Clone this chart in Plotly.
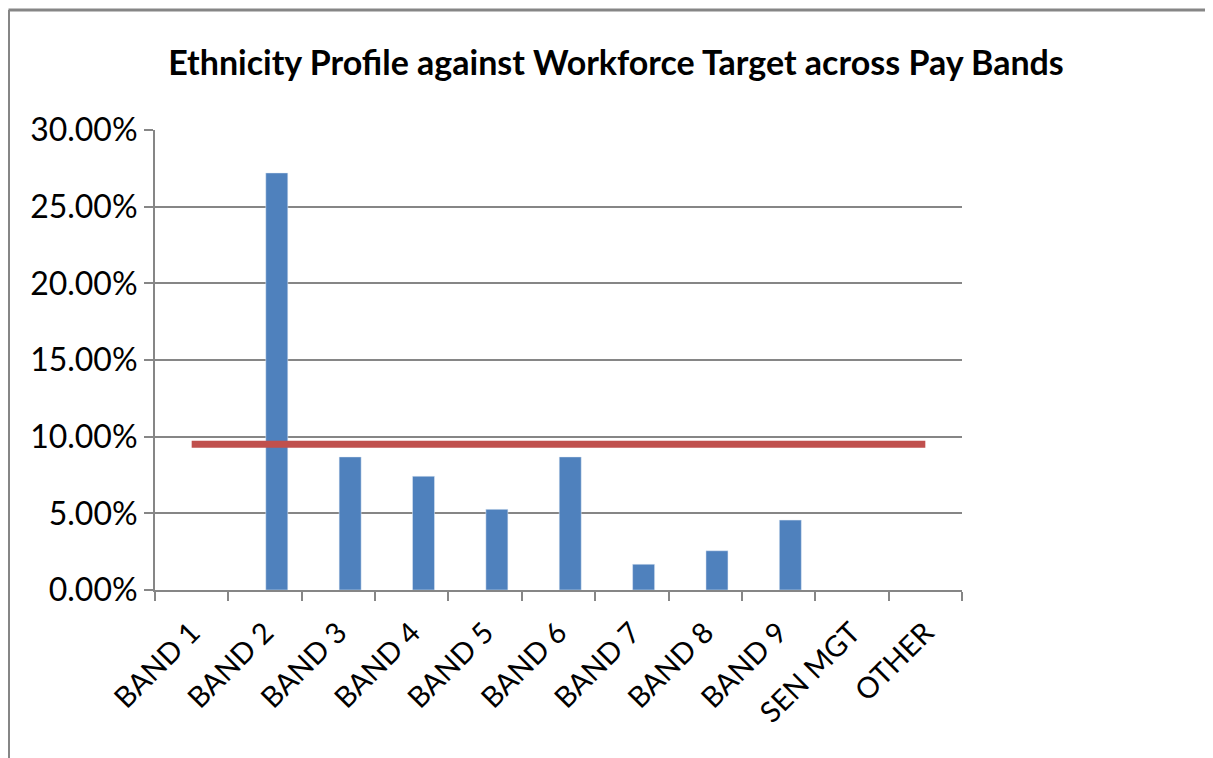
import plotly.graph_objects as go

categories = ["BAND 1", "BAND 2", "BAND 3", "BAND 4", "BAND 5", "BAND 6",
              "BAND 7", "BAND 8", "BAND 9", "SEN MGT", "OTHER"]
profile = [None, 0.272, 0.0868, 0.0742, 0.0526, 0.0868, 0.0168, 0.0256, 0.0456, None, None]
target = [0.095] * 11

W, H = 1213, 758
OFF = 8  # page body margin
L, R, T, B = 155 - OFF, 251 + OFF, 130 - OFF, 168 + OFF
pw, ph = W - L - R, H - T - B

FONT = "Lato"
GRAY = "#868686"

fig = go.Figure()
fig.add_trace(go.Bar(x=categories, y=profile, marker_color="#4F81BD",
                     width=0.3, offset=0.01, name="Profile"))
fig.add_trace(go.Scatter(x=categories, y=target, mode="lines",
                         line=dict(color="#C0504D", width=7), name="Target"))

def px_x(px):
    return (px - L) / pw

def px_y(py):
    return (H - B - py) / ph

shapes = [
    dict(type="line", xref="paper", yref="paper", x0=px_x(0.5), x1=px_x(W + 5),
         y0=px_y(2), y1=px_y(2), line=dict(color=GRAY, width=3)),
    dict(type="line", xref="paper", yref="paper", x0=px_x(0.5), x1=px_x(0.5),
         y0=px_y(2), y1=px_y(H + 5), line=dict(color=GRAY, width=3)),
]

fig.update_layout(
    width=W, height=H,
    margin=dict(l=L, r=R, t=T, b=B),
    paper_bgcolor="white", plot_bgcolor="white",
    showlegend=False,
    shapes=shapes,
    title=dict(text="<b>Ethnicity Profile against Workforce Target across Pay Bands</b>",
               x=(616 - OFF) / W, xanchor="center", y=1 - (63 - OFF) / H, yanchor="middle",
               font=dict(family=FONT, size=34, color="black")),
    font=dict(family=FONT, color="black"),
)
fig.update_xaxes(
    type="category", tickangle=-45, tickfont=dict(size=29, family=FONT, color="black"),
    showline=True, linecolor=GRAY, linewidth=2,
    ticks="outside", tickson="boundaries", ticklen=9, tickcolor=GRAY, tickwidth=2,
    showgrid=False, range=[-0.5, 10.5], ticklabelstandoff=12,
)
fig.update_yaxes(
    range=[0, 0.30], dtick=0.05, tickformat=".2%",
    tickfont=dict(size=32, family=FONT, color="black"),
    showline=True, linecolor=GRAY, linewidth=2,
    showgrid=True, gridcolor=GRAY, gridwidth=2,
    ticks="outside", ticklen=9, tickcolor=GRAY, tickwidth=2,
    zeroline=False, ticklabelstandoff=0,
)

fig.write_html("out.html")
